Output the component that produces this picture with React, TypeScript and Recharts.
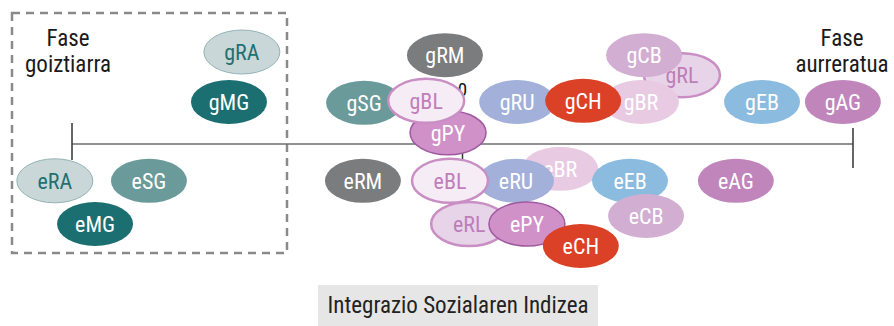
import { Scatter, ScatterChart, XAxis, YAxis } from 'recharts';

const FONT = "'Liberation Sans Narrow', 'Arial Narrow', 'Roboto Condensed', sans-serif";

// axis ticks of the social integration index
const axisTicks = [-1, 0, 1];
const axisTickLabels = ['', '0', ''];

// early phase (g) - drawn first
const gCodes = ['gRA', 'gMG', 'gRM', 'gSG', 'gPY', 'gBL', 'gRU', 'gRL', 'gCB', 'gBR', 'gCH', 'gEB', 'gAG'];
const gIndex = [-0.565, -0.598, -0.045, -0.252, -0.037, -0.093, 0.14, 0.562, 0.465, 0.457, 0.309, 0.767, 0.974];
const gLane = [2.3, 1.05, 2.22, 1.03, 0.28, 1.08, 1.05, 1.72, 2.22, 1.05, 1.08, 1.05, 1.05];

// (e) row below the axis
const eCodes = ['eRA', 'eMG', 'eSG', 'eRM', 'eBR', 'eRU', 'eBL', 'eRL', 'ePY', 'eCH', 'eEB', 'eCB', 'eAG'];
const eIndex = [-1.044, -0.941, -0.803, -0.255, 0.25, 0.137, -0.032, 0.017, 0.165, 0.303, 0.429, 0.47, 0.7];
const eLane = [-0.92, -2.0, -0.92, -0.92, -0.62, -0.92, -0.92, -2.0, -2.0, -2.55, -0.92, -1.8, -0.92];

const STYLES: Record<string, { fill: string; stroke?: string; sw?: number; text?: string }> = {
  RA: { fill: '#c9d7d9', stroke: '#93b3b5', sw: 1, text: '#24706f' },
  MG: { fill: '#1b6f70' },
  SG: { fill: '#6b9a9b' },
  RM: { fill: '#7b7c7e' },
  BL: { fill: '#f6ecf5', stroke: '#c98fc4', sw: 2.5, text: '#c17dba' },
  PY: { fill: '#cf91c8', stroke: '#a058a0', sw: 1.5 },
  RU: { fill: '#a2b0da' },
  CH: { fill: '#da4127' },
  CB: { fill: '#d3aed3' },
  RL: { fill: '#e7d4e9', stroke: '#c98fc4', sw: 2.5, text: '#bf7db8' },
  BR: { fill: '#e8cbe3' },
  EB: { fill: '#8cbbe0' },
  AG: { fill: '#c086bc' },
};

const tickData = axisTicks.map((x, i) => ({ x, y: 0, label: axisTickLabels[i] }));
const bubbles = [
  ...gCodes.map((code, i) => ({ code, x: gIndex[i], y: gLane[i] })),
  ...eCodes.map((code, i) => ({ code, x: eIndex[i], y: eLane[i] })),
];

const TICK_LEN: Record<number, [number, number]> = { [-1]: [21, 16], 0: [20, 18], 1: [16, 24] };

function TickMark(props: any) {
  const { cx, cy, payload } = props;
  const [up, down] = TICK_LEN[payload.x] ?? [20, 18];
  return (
    <g>
      <line x1={cx} x2={cx} y1={cy - up} y2={cy + down} stroke="#333" strokeWidth={1.5} />
      {payload.label ? (
        <text x={cx} y={cy - 48} textAnchor="middle" fontSize={19} fontFamily={FONT} fill="#111">
          {payload.label}
        </text>
      ) : null}
    </g>
  );
}

function Bubble(props: any) {
  const { cx, cy, payload } = props;
  const st = STYLES[payload.code.slice(1)];
  return (
    <g>
      <ellipse cx={cx} cy={cy} rx={38} ry={22} fill={st.fill} stroke={st.stroke ?? 'none'} strokeWidth={st.sw ?? 0} />
      <text x={cx} y={cy} dy="0.36em" textAnchor="middle" fontSize={22} fontFamily={FONT} fill={st.text ?? '#fff'}>
        {payload.code}
      </text>
    </g>
  );
}

export default function App() {
  return (
    <div style={{ position: 'absolute', left: 0, top: 0, width: 894, height: 326, background: '#fff' }}>
      <svg width={894} height={326} style={{ position: 'absolute', left: 0, top: 0 }}>
        <rect x={12} y={13} width={275} height={240} fill="none" stroke="#8a8a8a" strokeWidth={2.5} strokeDasharray="8 6" />
        <text textAnchor="middle" fontSize={23} fontFamily={FONT} fill="#1a1a1a">
          <tspan x={68} y={46}>Fase</tspan>
          <tspan x={68} y={72}>goiztiarra</tspan>
        </text>
        <text textAnchor="middle" fontSize={23} fontFamily={FONT} fill="#1a1a1a">
          <tspan x={842} y={46}>Fase</tspan>
          <tspan x={842} y={72}>aurreratua</tspan>
        </text>
        <rect x={318} y={285} width={280} height={41} fill="#e6e6e6" />
        <text x={458} y={313} textAnchor="middle" fontSize={23} fontFamily={FONT} fill="#222">
          Integrazio Sozialaren Indizea
        </text>
      </svg>
      <div style={{ position: 'absolute', left: 0, top: 0 }}>
        <ScatterChart width={894} height={326} margin={{ left: 0, right: 0, top: 0, bottom: 0 }}>
          <XAxis type="number" dataKey="x" domain={[-1.1844, 1.105]} hide />
          <YAxis type="number" dataKey="y" domain={[-4.55, 3.6]} hide />
          <Scatter
            data={tickData}
            line={{ stroke: '#6e6e6e', strokeWidth: 1.5 }}
            shape={TickMark}
            isAnimationActive={false}
          />
          <Scatter data={bubbles} shape={Bubble} isAnimationActive={false} />
        </ScatterChart>
      </div>
    </div>
  );
}
